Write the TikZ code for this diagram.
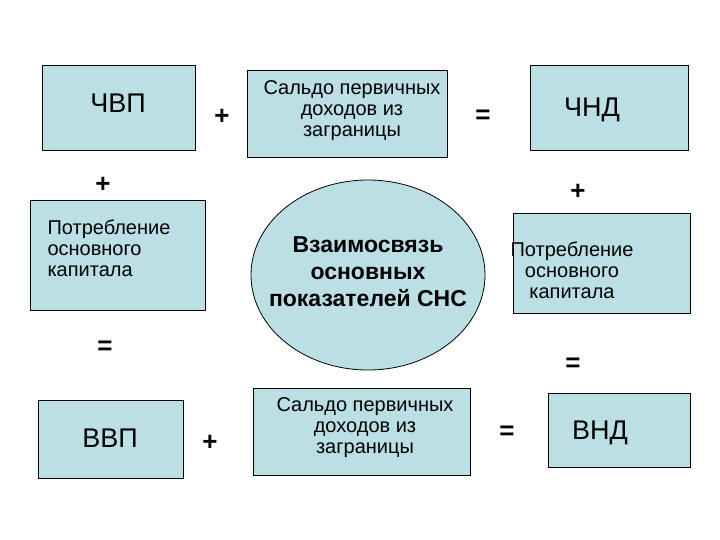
\documentclass[tikz,border=0pt]{standalone}
\usepackage{fontspec}
\setmainfont{Liberation Sans}
\begin{document}
\begin{tikzpicture}[x=1pt,y=-1pt,
 box/.style={draw=black,fill=fillc,line width=0.8pt},
 sign/.style={font=\fontsize{26}{26}\selectfont\bfseries},
 txt/.style={align=left,font=\fontsize{20}{21}\selectfont},
 big/.style={font=\fontsize{27}{28}\selectfont}]
\definecolor{fillc}{HTML}{BBDFE4}
\useasboundingbox (0,0) rectangle (720,540);
\draw[box] (42,65) rectangle (195,150);
\node[big] (t1) at (118,103) {ЧВП};
\draw[box] (247,70) rectangle (447,157);
\node[txt,align=center] (t2) at (352,111) {Сальдо первичных\\ доходов из\\ заграницы};
\draw[box] (530,65) rectangle (688,150);
\node[big] (t3) at (592,110) {ЧНД};
\draw[box] (30,200) rectangle (205,310);
\node[txt,anchor=north west] (t4) at (44,216) {Потребление\\основного\\капитала};
\draw[box,fill=fillc] (368,275) ellipse (117 and 95);
\node[align=center,font=\fontsize{23}{27}\selectfont\bfseries] (t5) at (368,272) {Взаимосвязь\\ основных\\ показателей СНС};
\draw[box] (513,213) rectangle (690,313);
\node[txt,align=center] (t6) at (572,270) {Потребление\\основного\\капитала};
\draw[box] (38,400) rectangle (183,478);
\node[big] (t7) at (110,438) {ВВП};
\draw[box] (253,388) rectangle (470,475);
\node[txt,align=center] (t8) at (365,428) {Сальдо первичных\\ доходов из\\ заграницы};
\draw[box] (548,393) rectangle (690,467);
\node[big] (t9) at (600,433) {ВНД};
\node[sign] (s1) at (222,117) {+};
\node[sign] (s2) at (483,117) {=};
\node[sign] (s3) at (103,185) {+};
\node[sign] (s4) at (578,192) {+};
\node[sign] (s5) at (105,348) {=};
\node[sign] (s6) at (573,365) {=};
\node[sign] (s7) at (210,443) {+};
\node[sign] (s8) at (507,433) {=};
\end{tikzpicture}
\end{document}
